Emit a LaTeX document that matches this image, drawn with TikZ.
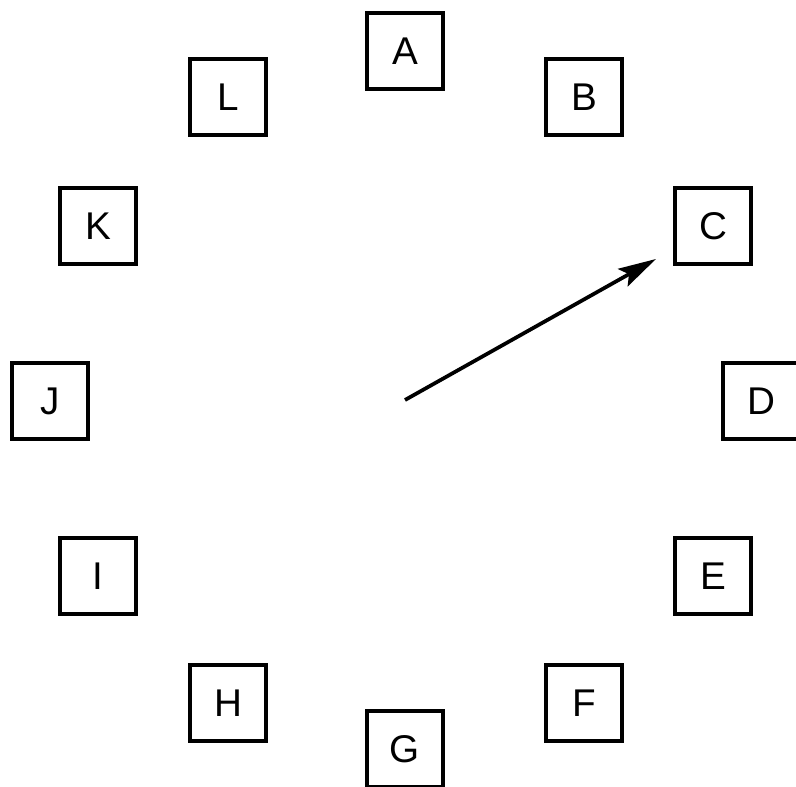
\documentclass[tikz,border=0pt]{standalone}
\usepackage{fontspec}
\setmainfont{Liberation Sans}
\usetikzlibrary{arrows.meta}
\begin{document}
\begin{tikzpicture}[x=0.02cm,y=-0.02cm,
  hourbox/.style={draw=black, line width=0.07cm, minimum size=1.53cm, inner sep=0pt, fill=white, font=\fontsize{22}{26}\selectfont},
  hand/.style={line width=0.075cm, -{Stealth[length=0.76cm, width=0.4cm, inset=0.14cm]}}]
\useasboundingbox (0,0) rectangle (796,787);
\node[hourbox] (A) at (405,51) {A};
\node[hourbox] (B) at (584,97) {B};
\node[hourbox] (C) at (713,226) {C};
\node[hourbox] (D) at (761,401) {D};
\node[hourbox] (E) at (713,576) {E};
\node[hourbox] (F) at (584,703) {F};
\node[hourbox] (G) at (405,749) {G};
\node[hourbox] (H) at (228,703) {H};
\node[hourbox] (I) at (98,576) {I};
\node[hourbox] (J) at (50,401) {J};
\node[hourbox] (K) at (98,226) {K};
\node[hourbox] (L) at (228,97) {L};
\coordinate (O) at (405,400);
\coordinate (tip) at (656,259);
\draw[hand] (O) -- (tip);
\end{tikzpicture}
\end{document}
